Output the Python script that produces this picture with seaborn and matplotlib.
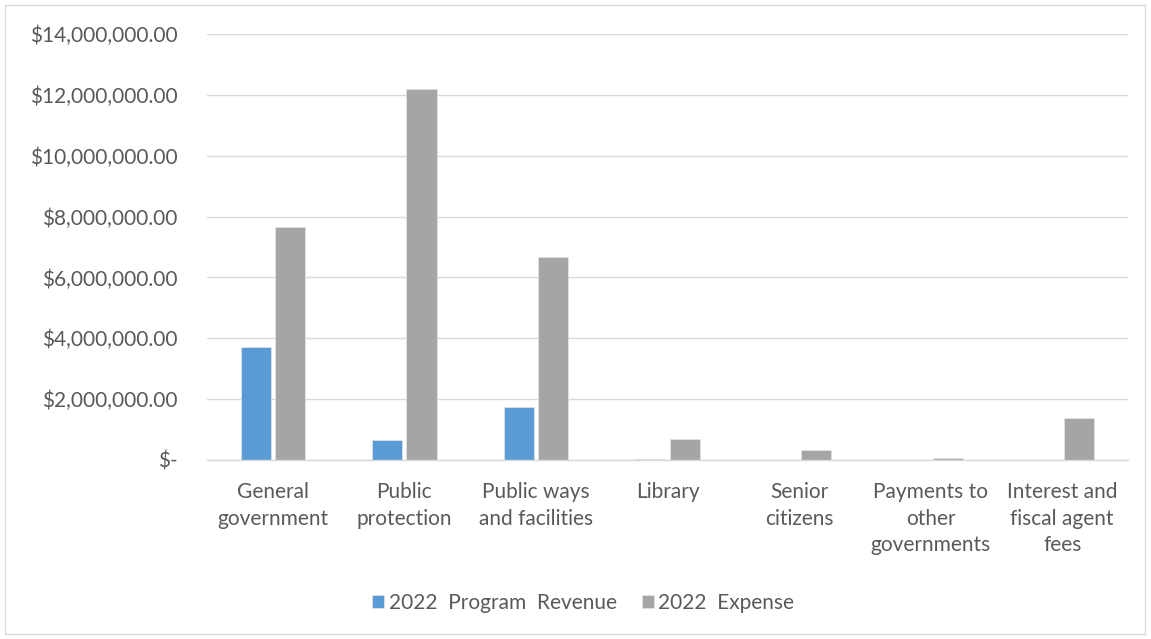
import matplotlib
matplotlib.use("Agg")
import matplotlib.pyplot as plt
import seaborn as sns
import pandas as pd
from matplotlib.patches import Rectangle

categories = ["General\ngovernment", "Public\nprotection", "Public ways\nand facilities",
              "Library", "Senior\ncitizens", "Payments to\nother\ngovernments",
              "Interest and\nfiscal agent\nfees"]
revenue = [3730000, 660000, 1750000, 30000, 0, 0, 0]
expense = [7660000, 12180000, 6680000, 690000, 320000, 50000, 1380000]
series_names = ["2022  Program  Revenue", "2022  Expense"]
y_ticks = [0, 2000000, 4000000, 6000000, 8000000, 10000000, 12000000, 14000000]

df = pd.DataFrame({
    "cat": categories * 2,
    "val": revenue + expense,
    "series": [series_names[0]] * len(categories) + [series_names[1]] * len(categories),
})

sns.set_theme(style="white")
plt.rcParams["font.family"] = ["Lato", "DejaVu Sans"]
text_color = "#595959"

fig = plt.figure(figsize=(11.51, 6.39), dpi=100)
ax = fig.add_axes([207 / 1151, 1 - 460 / 639, (1128 - 207) / 1151, (460 - 34) / 639])

sns.barplot(data=df, x="cat", y="val", hue="series", order=categories,
            palette=["#5B9BD5", "#A5A5A5"], saturation=1, width=0.52, gap=0.12,
            edgecolor="#E6E6E6", linewidth=0.5, ax=ax, legend=True)

ax.set_ylim(0, 14000000)
ax.set_xlim(-0.5, len(categories) - 0.5)
ax.set_yticks(y_ticks)
ax.set_yticklabels(["$-" if v == 0 else "${:,.2f}".format(v) for v in y_ticks])
ax.yaxis.grid(True, color="#D9D9D9", linewidth=1)
ax.set_axisbelow(True)
for s in ["top", "right", "left"]:
    ax.spines[s].set_visible(False)
ax.spines["bottom"].set_color("#D9D9D9")
ax.spines["bottom"].set_linewidth(1)
ax.tick_params(axis="y", length=0, pad=21, labelsize=15, labelcolor=text_color)
ax.tick_params(axis="x", length=0, pad=16, labelsize=15, labelcolor=text_color)
for lab in ax.get_xticklabels():
    lab.set_linespacing(1.4)
ax.set_xlabel("")
ax.set_ylabel("")

handles, labels = ax.get_legend_handles_labels()
ax.get_legend().remove()
fig.legend(handles, labels, loc="center", bbox_to_anchor=(583 / 1151, 1 - 603 / 639),
           ncol=2, frameon=False, fontsize=15, labelcolor=text_color,
           handlelength=0.6, handleheight=0.6, handletextpad=0.2, columnspacing=1.2)

fig.patches.append(Rectangle((5 / 1151, 5 / 639), 1140 / 1151, 629 / 639,
                             transform=fig.transFigure, fill=False,
                             edgecolor="#D9D9D9", linewidth=1))

fig.savefig("out.png", dpi=100, facecolor="white")
